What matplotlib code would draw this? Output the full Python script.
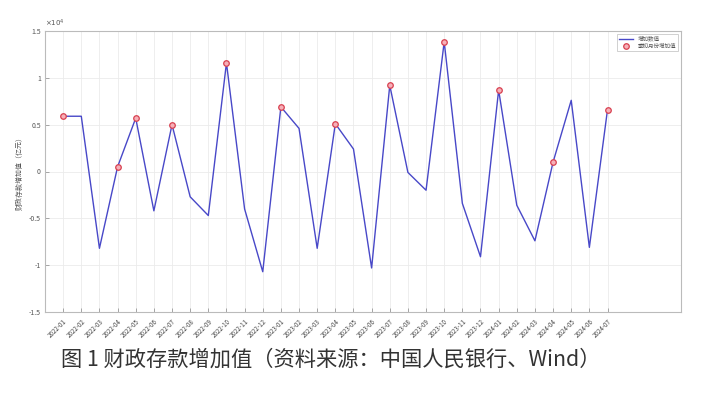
import matplotlib
matplotlib.use("Agg")
import matplotlib.pyplot as plt
import numpy as np

plt.rcParams['font.family'] = ['Noto Sans CJK SC', 'DejaVu Sans']

months = ["2022-01", "2022-02", "2022-03", "2022-04", "2022-05", "2022-06", "2022-07", "2022-08",
          "2022-09", "2022-10", "2022-11", "2022-12", "2023-01", "2023-02", "2023-03", "2023-04",
          "2023-05", "2023-06", "2023-07", "2023-08", "2023-09", "2023-10", "2023-11", "2023-12",
          "2024-01", "2024-02", "2024-03", "2024-04", "2024-05", "2024-06", "2024-07"]
# values in units of 1e4 亿元
values = [0.59, 0.59, -0.82, 0.05, 0.57, -0.42, 0.50, -0.27,
          -0.47, 1.16, -0.40, -1.07, 0.69, 0.46, -0.82, 0.51,
          0.24, -1.03, 0.92, -0.01, -0.20, 1.385, -0.34, -0.91,
          0.87, -0.36, -0.74, 0.10, 0.76, -0.81, 0.66]
marked_months = ["2022-01", "2022-04", "2022-05", "2022-07", "2022-10", "2023-01", "2023-04",
                 "2023-07", "2023-10", "2024-01", "2024-04", "2024-07"]
yticks = [-1.5, -1, -0.5, 0, 0.5, 1, 1.5]
ytick_labels = ["-1.5", "-1", "-0.5", "0", "0.5", "1", "1.5"]

fig = plt.figure(figsize=(7.07, 3.93), dpi=100)
ax = fig.add_axes([45/707, 1-312/393, (681-45)/707, (312-31)/393])

x = np.arange(len(months))
ax.plot(x, values, color='#4848c8', lw=1.0, label='增加数值', zorder=2)
mi = [months.index(m) for m in marked_months]
ax.plot(mi, [values[i] for i in mi], 'o', ms=4.0, mfc='#f6b0b8', mec='#d84050', mew=0.9,
        linestyle='none', label='季初月份增加值', zorder=3)

ax.set_xlim(-1, 34.05)
ax.set_ylim(-1.5, 1.5)
ax.set_xticks(x)
ax.set_xticklabels(months, rotation=45, ha='right', rotation_mode='anchor', fontsize=4.5, color='#444444')
ax.set_yticks(yticks)
ax.set_yticklabels(ytick_labels, fontsize=5, color='#555555')
ax.tick_params(axis='both', length=3, width=0.5, color='#888888', direction='in', pad=3)
ax.tick_params(axis='x', pad=4)
ax.grid(True, color='#ebebeb', lw=0.6)
ax.set_axisbelow(True)
for s in ax.spines.values():
    s.set_color('#bbbbbb')
    s.set_linewidth(0.8)

ax.set_ylabel('财政存款增加值（亿元）', fontsize=5, color='#555555', labelpad=4)
ax.text(0.0, 1.008, r'$\times10^4$', transform=ax.transAxes, fontsize=5, color='#555555',
        ha='left', va='bottom')

leg = ax.legend(loc='upper right', fontsize=4, frameon=True, fancybox=False,
                edgecolor='#bbbbbb', handlelength=2.5, borderaxespad=0.5, labelspacing=0.3)
leg.get_frame().set_linewidth(0.6)
for t in leg.get_texts():
    t.set_color('#555555')

fig.text(0.4675, 0.085, '图 1 财政存款增加值（资料来源：中国人民银行、Wind）', ha='center', va='center',
         fontsize=15.3, color='#333333')

fig.savefig('out.png', dpi=100)
